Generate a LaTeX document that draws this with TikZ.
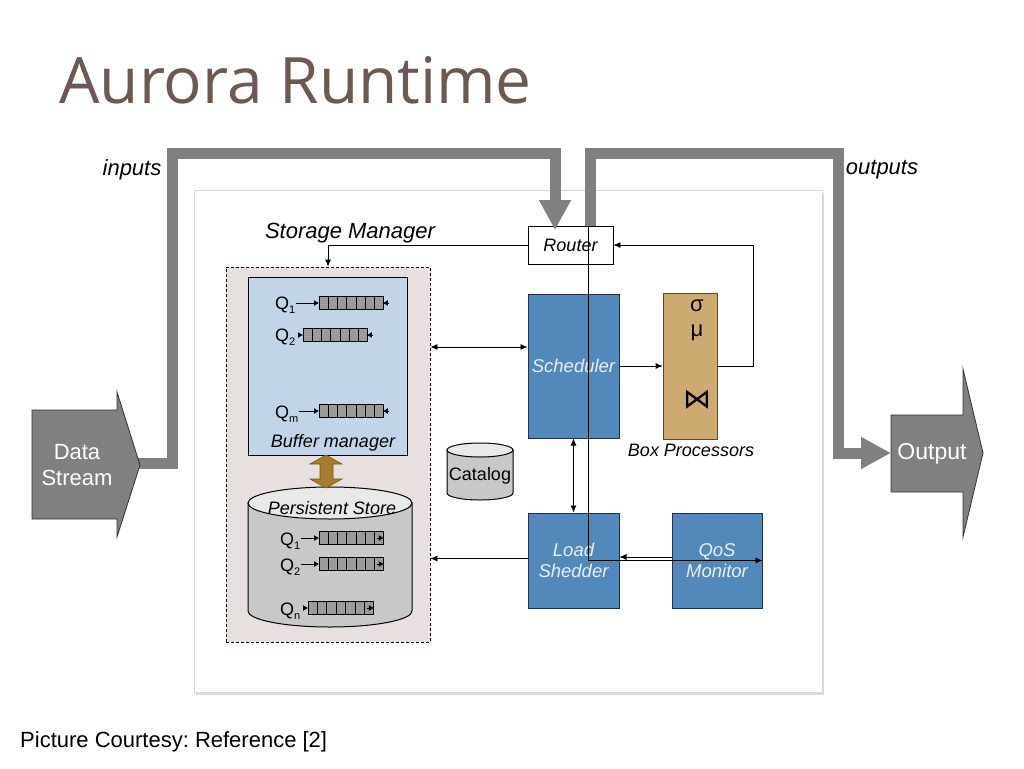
\documentclass[tikz,border=0pt]{standalone}
\usepackage{fontspec}
\setmainfont{Liberation Sans}
\newfontfamily\titlefont{Open Sans}
\newfontfamily\dejavu{DejaVu Sans}
\usetikzlibrary{arrows.meta,calc,shadows}
\frenchspacing
\definecolor{titlecol}{RGB}{108,90,80}
\definecolor{pipegray}{RGB}{128,128,128}
\definecolor{blkfill}{RGB}{82,136,186}
\definecolor{blkborder}{RGB}{30,50,80}
\definecolor{blktext}{RGB}{232,238,245}
\definecolor{tanfill}{RGB}{205,170,112}
\definecolor{bmfill}{RGB}{194,213,232}
\definecolor{smfill}{RGB}{232,224,222}
\definecolor{psbody}{RGB}{200,200,200}
\definecolor{pstop}{RGB}{233,233,233}
\definecolor{qfill}{RGB}{155,155,155}
\definecolor{brownarr}{RGB}{166,124,46}
\definecolor{panelborder}{RGB}{215,215,215}
\newcommand{\qcells}[1]{\foreach \i in {1,...,6}{\draw[line width=0.8pt] ($(#1.north west)!\i/7!(#1.north east)$) -- ($(#1.south west)!\i/7!(#1.south east)$);}}
\newcommand{\qsub}[1]{\raisebox{-4pt}{\fontsize{11}{11}\selectfont #1}}
\begin{document}
\begin{tikzpicture}[x=1pt,y=-1pt,
  conn/.style={draw=black, line width=0.8pt},
  tipa/.style={-{Latex[length=7pt,width=6pt]}},
  tipb/.style={{Latex[length=7pt,width=6pt]}-{Latex[length=7pt,width=6pt]}},
  blk/.style={draw=blkborder, fill=blkfill, line width=1pt, inner sep=0pt, text=blktext, font=\fontsize{18.5}{21}\selectfont\itshape, align=center},
  pipe/.style={draw=pipegray, line width=11pt, line join=miter},
  bigarrow/.style={fill=pipegray, draw=black!80, line width=0.8pt},
  lbl/.style={inner sep=0pt, font=\fontsize{18}{21}\selectfont\itshape},
  biglbl/.style={inner sep=0pt, font=\fontsize{22}{26}\selectfont\itshape},
  qlab/.style={inner sep=0pt, font=\fontsize{18}{21}\selectfont},
  qbox/.style={draw=black, fill=qfill, line width=0.8pt, inner sep=0pt, minimum height=13pt},
  smalltip/.style={-{Latex[length=5pt,width=6pt]}}
]
\useasboundingbox (0,0) rectangle (1024,768);
\fill[white] (0,0) rectangle (1024,768);

% title
\node[anchor=base west, inner sep=0pt, text=titlecol, font=\titlefont\fontsize{64}{70}\selectfont] (title) at (59,103) {Aurora Runtime};

% panel
\node[draw=panelborder, fill=white, line width=0.8pt, minimum width=628pt, minimum height=502pt, inner sep=0pt,
  drop shadow={shadow xshift=1.5pt, shadow yshift=-2.5pt, opacity=0.35, fill=black!40}] (panel) at (508,441) {};

% labels
\node[biglbl] (inputs) at (132,170) {inputs};
\node[biglbl] (outputs) at (882,170) {outputs};
\node[biglbl] (smlabel) at (350,233) {Storage Manager};

% storage manager
\node[draw=black, dashed, dash pattern=on 3pt off 2pt, fill=smfill, line width=0.8pt, minimum width=204pt, minimum height=375pt, inner sep=0pt] (sm) at (328,454.5) {};
\node[draw=black, fill=bmfill, line width=1pt, minimum width=159pt, minimum height=178pt, inner sep=0pt] (bm) at (327.5,366) {};
\node[lbl] (bmlabel) at (333,443) {Buffer manager};

% buffer queues
\node[qlab, anchor=base west] (lq1) at (275,309) {Q\qsub{1}};
\node[qbox, minimum width=64pt, anchor=west] (bq1) at (319,303) {};
\node[qlab, anchor=base west] (lq2) at (275,341) {Q\qsub{2}};
\node[qbox, minimum width=64pt, anchor=west] (bq2) at (303,335) {};
\node[qlab, anchor=base west] (lqm) at (275,418) {Q\qsub{m}};
\node[qbox, minimum width=64pt, anchor=west] (bqm) at (319,411) {};
\qcells{bq1}\qcells{bq2}\qcells{bqm}
\draw[conn, smalltip] (lq1.east |- bq1.west) -- (bq1.west);
\draw[conn, smalltip] ([xshift=-5pt]bq2.west) -- (bq2.west);
\draw[conn, smalltip] (lqm.east |- bqm.west) -- (bqm.west);
\draw[conn, smalltip] ([xshift=5pt]bq1.east) -- ([xshift=-1pt]bq1.east);
\draw[conn, smalltip] ([xshift=5pt]bq2.east) -- ([xshift=-1pt]bq2.east);
\draw[conn, smalltip] ([xshift=5pt]bqm.east) -- ([xshift=-1pt]bqm.east);

% persistent store cylinder
\filldraw[fill=psbody, draw=black, line width=1pt] (248,503) -- (248,611) arc[start angle=180, end angle=0, x radius=82, y radius=16] -- (412,503) -- cycle;
\filldraw[fill=pstop, draw=black, line width=1pt] (330,503) ellipse[x radius=82, y radius=16];
\node[lbl] (ps) at (332,508) {Persistent Store};

\node[qlab, anchor=base west] (pl1) at (280,545) {Q\qsub{1}};
\node[qbox, minimum width=64pt, anchor=west] (pq1) at (319,538) {};
\node[qlab, anchor=base west] (pl2) at (280,571) {Q\qsub{2}};
\node[qbox, minimum width=64pt, anchor=west] (pq2) at (319,564) {};
\node[qlab, anchor=base west] (pln) at (280,615) {Q\qsub{n}};
\node[qbox, minimum width=65pt, anchor=west] (pqn) at (308,608) {};
\qcells{pq1}\qcells{pq2}\qcells{pqn}
\draw[conn, smalltip] (pl1.east |- pq1.west) -- (pq1.west);
\draw[conn, smalltip] (pl2.east |- pq2.west) -- (pq2.west);
\draw[conn, smalltip] ([xshift=-5pt]pqn.west) -- (pqn.west);
\draw[conn, smalltip] ([xshift=-7pt]pq1.east) -- (pq1.east);
\draw[conn, smalltip] ([xshift=-7pt]pq2.east) -- (pq2.east);
\draw[conn, smalltip] ([xshift=-7pt]pqn.east) -- (pqn.east);

% brown double arrow
\filldraw[fill=brownarr, draw=brownarr!70!black, line width=0.6pt] (326,455) -- (342,464) -- (333,464) -- (333,479) -- (342,479) -- (326,488) -- (310,479) -- (320,479) -- (320,464) -- (310,464) -- cycle;

% catalog
\filldraw[fill=psbody, draw=black, line width=1pt] (447,450) -- (447,493) arc[start angle=180, end angle=0, x radius=33, y radius=7] -- (513,450) -- cycle;
\filldraw[fill=pstop, draw=black, line width=1pt] (480,450) ellipse[x radius=33, y radius=7];
\node[qlab] (cat) at (480,476) {Catalog};

% blocks
\node[draw=black, fill=white, line width=0.8pt, minimum width=85pt, minimum height=38pt, inner sep=0pt, font=\fontsize{18}{20}\selectfont\itshape] (router) at (570.5,245) {Router};
\node[blk, minimum width=91pt, minimum height=144pt] (sched) at (573.5,366) {Scheduler};
\node[blk, minimum width=91pt, minimum height=95pt] (load) at (573.5,560.5) {Load\\Shedder};
\node[blk, minimum width=90pt, minimum height=95pt] (qos) at (717,560.5) {QoS\\Monitor};
\node[draw=black!70, fill=tanfill, line width=0.8pt, minimum width=54pt, minimum height=146pt, inner sep=0pt] (box) at (690,366) {};
\node[inner sep=0pt, font=\fontsize{22}{24}\selectfont] (sigma) at (697,306) {σ};
\node[inner sep=0pt, font=\fontsize{22}{24}\selectfont] (mu) at (697,333) {μ};
\node[inner sep=0pt, font=\dejavu\fontsize{28}{30}\selectfont] (join) at (697,400) {⋈};
\node[lbl] (boxlabel) at (691,450) {Box Processors};

% coordinates
\coordinate (y347) at (0,347);
\coordinate (y557) at (0,557);
\coordinate (y558) at (0,558.5);
\coordinate (y560) at (0,560.5);
\coordinate (thintop) at (588,226);

% thin connectors
\draw[conn, tipa] (router.west) -| (sm.north);
\draw[conn, tipa] (box.east) -- ++(36,0) |- (router.east);
\draw[conn, tipa] (sched.east) -- (box.west);
\draw[conn, tipb] (sm.east |- y347) -- (sched.west |- y347);
\draw[conn, tipb] (sched.south) -- (load.north);
\draw[conn, tipa] (load.west |- y558) -- (sm.east |- y558);
\draw[conn, tipa] (qos.west |- y557) -- (load.east |- y557);
\draw[conn, tipa] (thintop) |- (qos.east |- y560);

% pipes
\coordinate (dstip) at (138,463);
\coordinate (inA) at (172,463);
\coordinate (inB) at (172,153);
\coordinate (inC) at (555,153);
\coordinate (inD) at (555,230);
\draw[pipe, -{Triangle[length=30pt,width=30pt]}] (dstip) -- (inA) -- (inB) -- (inC) -- (inD);
\coordinate (outA) at (590,226);
\coordinate (outB) at (590,153);
\coordinate (outC) at (838,153);
\coordinate (outD) at (838,453);
\coordinate (outE) at (891,453);
\draw[pipe, -{Triangle[length=30pt,width=30pt]}] (outA) -- (outB) -- (outC) -- (outD) -- (outE);

% data stream arrow
\filldraw[bigarrow] (32,410) -- (117,410) -- (117,392) -- (140,465) -- (117,537) -- (117,519) -- (32,519) -- cycle;
\node[align=center, text=white, inner sep=0pt, font=\fontsize{22}{26}\selectfont] (ds) at (77,465) {Data\\Stream};
% output arrow
\filldraw[bigarrow] (891,415) -- (963,415) -- (963,369) -- (983,453) -- (963,537) -- (963,492) -- (891,492) -- cycle;
\node[text=white, inner sep=0pt, font=\fontsize{23}{26}\selectfont] (out) at (932,454) {Output};

% courtesy
\node[anchor=west, inner sep=0pt, font=\fontsize{22}{24}\selectfont] (court) at (20,742) {Picture Courtesy: Reference [2]};
\end{tikzpicture}
\end{document}
